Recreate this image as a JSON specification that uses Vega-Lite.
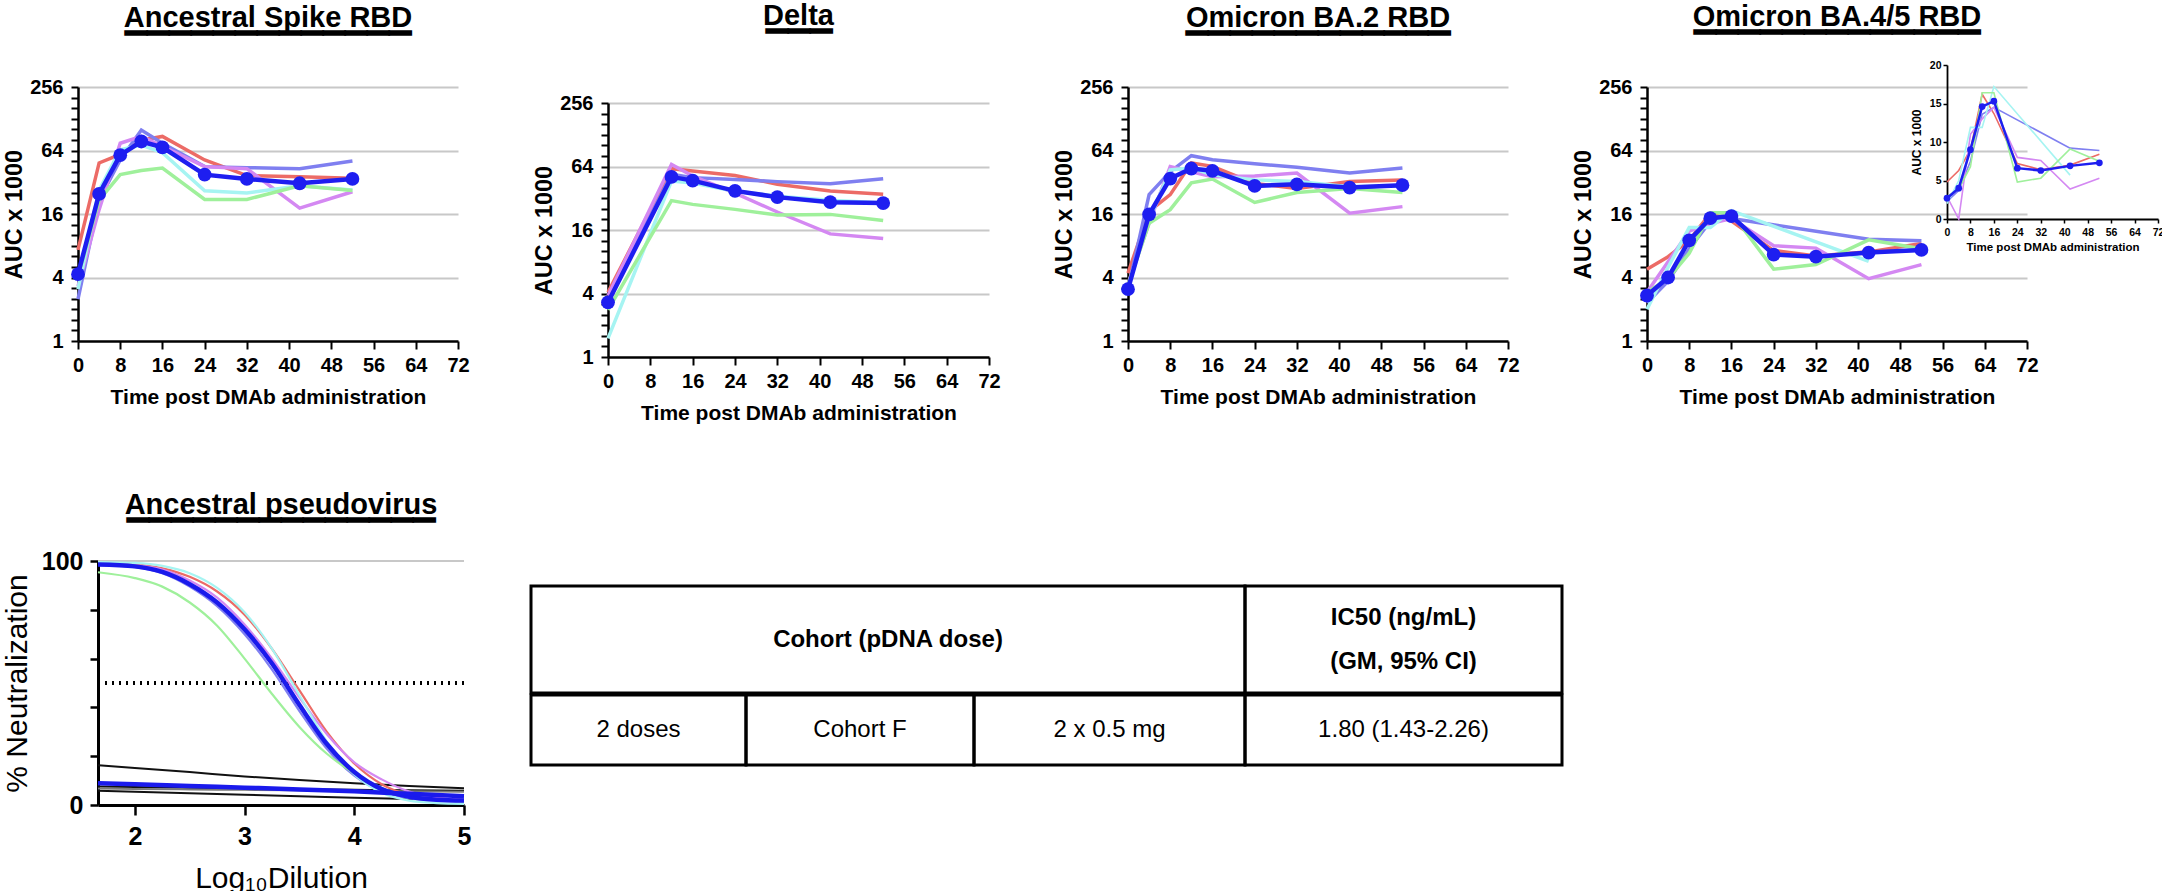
{
  "$schema": "https://vega.github.io/schema/vega-lite/v6.json",
  "background": "white",
  "padding": {"left": 2, "top": 2, "right": 0, "bottom": 0},
  "config": {
    "view": {"stroke": null},
    "font": "Liberation Sans",
    "axis": {
      "domainColor": "black", "domainWidth": 2.5, "tickColor": "black", "tickWidth": 2,
      "labelColor": "black", "labelFont": "Liberation Sans", "labelFontWeight": "bold",
      "titleColor": "black", "titleFont": "Liberation Sans", "titleFontWeight": "bold",
      "labelFlush": false, "labelOverlap": false, "labelBound": false,
      "gridColor": "#c8c8c8", "gridWidth": 2
    },
    "title": {"font": "Liberation Sans", "fontSize": 29, "fontWeight": "bold", "color": "black", "anchor": "middle", "lineHeight": 1},
    "text": {"font": "Liberation Sans", "color": "black"}
  },
  "datasets": {
    "spike": [
      {"series": "Animal 1", "time": 0, "auc": 7.3}, {"series": "Animal 1", "time": 4, "auc": 48.8}, {"series": "Animal 1", "time": 8, "auc": 58.8}, {"series": "Animal 1", "time": 12, "auc": 80}, {"series": "Animal 1", "time": 16, "auc": 87}, {"series": "Animal 1", "time": 24, "auc": 52}, {"series": "Animal 1", "time": 32, "auc": 37}, {"series": "Animal 1", "time": 42, "auc": 36}, {"series": "Animal 1", "time": 52, "auc": 35},
      {"series": "Animal 2", "time": 0, "auc": 2.5}, {"series": "Animal 2", "time": 4, "auc": 21.7}, {"series": "Animal 2", "time": 8, "auc": 52}, {"series": "Animal 2", "time": 12, "auc": 100}, {"series": "Animal 2", "time": 16, "auc": 75}, {"series": "Animal 2", "time": 24, "auc": 45}, {"series": "Animal 2", "time": 32, "auc": 44}, {"series": "Animal 2", "time": 42, "auc": 43}, {"series": "Animal 2", "time": 52, "auc": 51},
      {"series": "Animal 3", "time": 0, "auc": 3.3}, {"series": "Animal 3", "time": 4, "auc": 17.6}, {"series": "Animal 3", "time": 8, "auc": 75}, {"series": "Animal 3", "time": 12, "auc": 87}, {"series": "Animal 3", "time": 16, "auc": 70}, {"series": "Animal 3", "time": 24, "auc": 45}, {"series": "Animal 3", "time": 32, "auc": 43}, {"series": "Animal 3", "time": 42, "auc": 18.2}, {"series": "Animal 3", "time": 52, "auc": 26},
      {"series": "Animal 4", "time": 0, "auc": 3.1}, {"series": "Animal 4", "time": 4, "auc": 27}, {"series": "Animal 4", "time": 8, "auc": 65}, {"series": "Animal 4", "time": 12, "auc": 72}, {"series": "Animal 4", "time": 16, "auc": 61}, {"series": "Animal 4", "time": 24, "auc": 26.6}, {"series": "Animal 4", "time": 32, "auc": 25.3}, {"series": "Animal 4", "time": 42, "auc": 29.6}, {"series": "Animal 4", "time": 52, "auc": 27},
      {"series": "Animal 5", "time": 0, "auc": 4.1}, {"series": "Animal 5", "time": 4, "auc": 21.7}, {"series": "Animal 5", "time": 8, "auc": 37.8}, {"series": "Animal 5", "time": 12, "auc": 41.3}, {"series": "Animal 5", "time": 16, "auc": 43.6}, {"series": "Animal 5", "time": 24, "auc": 22}, {"series": "Animal 5", "time": 32, "auc": 22}, {"series": "Animal 5", "time": 42, "auc": 29.6}, {"series": "Animal 5", "time": 52, "auc": 26.7},
      {"series": "GM", "time": 0, "auc": 4.3}, {"series": "GM", "time": 4, "auc": 24.8}, {"series": "GM", "time": 8, "auc": 57.8}, {"series": "GM", "time": 12, "auc": 77.9}, {"series": "GM", "time": 16, "auc": 68.6}, {"series": "GM", "time": 24, "auc": 37.8}, {"series": "GM", "time": 32, "auc": 34.4}, {"series": "GM", "time": 42, "auc": 31.3}, {"series": "GM", "time": 52, "auc": 34.4}
    ],
    "delta": [
      {"series": "Animal 1", "time": 0, "auc": 4.1}, {"series": "Animal 1", "time": 12, "auc": 61}, {"series": "Animal 1", "time": 16, "auc": 58}, {"series": "Animal 1", "time": 24, "auc": 52.6}, {"series": "Animal 1", "time": 32, "auc": 43.5}, {"series": "Animal 1", "time": 42, "auc": 37.5}, {"series": "Animal 1", "time": 52, "auc": 34.9},
      {"series": "Animal 2", "time": 0, "auc": 3.5}, {"series": "Animal 2", "time": 12, "auc": 54}, {"series": "Animal 2", "time": 16, "auc": 50.2}, {"series": "Animal 2", "time": 24, "auc": 48.3}, {"series": "Animal 2", "time": 32, "auc": 46}, {"series": "Animal 2", "time": 42, "auc": 43.9}, {"series": "Animal 2", "time": 52, "auc": 49},
      {"series": "Animal 3", "time": 0, "auc": 3.8}, {"series": "Animal 3", "time": 12, "auc": 67}, {"series": "Animal 3", "time": 16, "auc": 52}, {"series": "Animal 3", "time": 24, "auc": 35.8}, {"series": "Animal 3", "time": 32, "auc": 23.7}, {"series": "Animal 3", "time": 42, "auc": 14.7}, {"series": "Animal 3", "time": 52, "auc": 13.3},
      {"series": "Animal 4", "time": 0, "auc": 1.5}, {"series": "Animal 4", "time": 12, "auc": 46.6}, {"series": "Animal 4", "time": 16, "auc": 44.6}, {"series": "Animal 4", "time": 24, "auc": 37.3}, {"series": "Animal 4", "time": 32, "auc": 33.5}, {"series": "Animal 4", "time": 42, "auc": 30.6}, {"series": "Animal 4", "time": 52, "auc": 28.9},
      {"series": "Animal 5", "time": 0, "auc": 2.8}, {"series": "Animal 5", "time": 12, "auc": 30.4}, {"series": "Animal 5", "time": 16, "auc": 28}, {"series": "Animal 5", "time": 24, "auc": 25.1}, {"series": "Animal 5", "time": 32, "auc": 22.2}, {"series": "Animal 5", "time": 42, "auc": 22.5}, {"series": "Animal 5", "time": 52, "auc": 19.7},
      {"series": "GM", "time": 0, "auc": 3.3}, {"series": "GM", "time": 12, "auc": 51}, {"series": "GM", "time": 16, "auc": 47}, {"series": "GM", "time": 24, "auc": 37.6}, {"series": "GM", "time": 32, "auc": 32.8}, {"series": "GM", "time": 42, "auc": 29.4}, {"series": "GM", "time": 52, "auc": 28.8}
    ],
    "ba2": [
      {"series": "Animal 1", "time": 0, "auc": 4.4}, {"series": "Animal 1", "time": 4, "auc": 16.9}, {"series": "Animal 1", "time": 8, "auc": 24.4}, {"series": "Animal 1", "time": 12, "auc": 48.7}, {"series": "Animal 1", "time": 16, "auc": 45.3}, {"series": "Animal 1", "time": 24, "auc": 31.2}, {"series": "Animal 1", "time": 32, "auc": 28}, {"series": "Animal 1", "time": 42, "auc": 32.5}, {"series": "Animal 1", "time": 52, "auc": 33.7},
      {"series": "Animal 2", "time": 0, "auc": 3.1}, {"series": "Animal 2", "time": 4, "auc": 24.4}, {"series": "Animal 2", "time": 8, "auc": 40.3}, {"series": "Animal 2", "time": 12, "auc": 57.1}, {"series": "Animal 2", "time": 16, "auc": 52.2}, {"series": "Animal 2", "time": 24, "auc": 47.9}, {"series": "Animal 2", "time": 32, "auc": 44.3}, {"series": "Animal 2", "time": 42, "auc": 39.1}, {"series": "Animal 2", "time": 52, "auc": 43.6},
      {"series": "Animal 3", "time": 0, "auc": 3.5}, {"series": "Animal 3", "time": 4, "auc": 13.1}, {"series": "Animal 3", "time": 8, "auc": 45}, {"series": "Animal 3", "time": 12, "auc": 40.3}, {"series": "Animal 3", "time": 16, "auc": 36.1}, {"series": "Animal 3", "time": 24, "auc": 36.6}, {"series": "Animal 3", "time": 32, "auc": 39.1}, {"series": "Animal 3", "time": 42, "auc": 16.3}, {"series": "Animal 3", "time": 52, "auc": 18.8},
      {"series": "Animal 4", "time": 0, "auc": 3.3}, {"series": "Animal 4", "time": 4, "auc": 14}, {"series": "Animal 4", "time": 8, "auc": 42}, {"series": "Animal 4", "time": 12, "auc": 43.6}, {"series": "Animal 4", "time": 16, "auc": 37.6}, {"series": "Animal 4", "time": 24, "auc": 33.7}, {"series": "Animal 4", "time": 32, "auc": 32.5}, {"series": "Animal 4", "time": 42, "auc": 29}, {"series": "Animal 4", "time": 52, "auc": 29.5},
      {"series": "Animal 5", "time": 0, "auc": 3.4}, {"series": "Animal 5", "time": 4, "auc": 13.1}, {"series": "Animal 5", "time": 8, "auc": 17.6}, {"series": "Animal 5", "time": 12, "auc": 31.6}, {"series": "Animal 5", "time": 16, "auc": 34.3}, {"series": "Animal 5", "time": 24, "auc": 20.6}, {"series": "Animal 5", "time": 32, "auc": 25.6}, {"series": "Animal 5", "time": 42, "auc": 27.9}, {"series": "Animal 5", "time": 52, "auc": 25.6},
      {"series": "GM", "time": 0, "auc": 3.1}, {"series": "GM", "time": 4, "auc": 15.9}, {"series": "GM", "time": 8, "auc": 34.7}, {"series": "GM", "time": 12, "auc": 43.2}, {"series": "GM", "time": 16, "auc": 41.1}, {"series": "GM", "time": 24, "auc": 29.5}, {"series": "GM", "time": 32, "auc": 30.6}, {"series": "GM", "time": 42, "auc": 28.5}, {"series": "GM", "time": 52, "auc": 30}
    ],
    "ba45": [
      {"series": "Animal 1", "time": 0, "auc": 4.8}, {"series": "Animal 1", "time": 4, "auc": 6.3}, {"series": "Animal 1", "time": 8, "auc": 9.0}, {"series": "Animal 1", "time": 12, "auc": 16.2}, {"series": "Animal 1", "time": 16, "auc": 13.7}, {"series": "Animal 1", "time": 24, "auc": 7.2}, {"series": "Animal 1", "time": 32, "auc": 6.4}, {"series": "Animal 1", "time": 42, "auc": 7.0}, {"series": "Animal 1", "time": 52, "auc": 8.4},
      {"series": "Animal 2", "time": 0, "auc": 2.3}, {"series": "Animal 2", "time": 4, "auc": 3.7}, {"series": "Animal 2", "time": 8, "auc": 7.5}, {"series": "Animal 2", "time": 12, "auc": 13.6}, {"series": "Animal 2", "time": 16, "auc": 14.5}, {"series": "Animal 2", "time": 42, "auc": 9.2}, {"series": "Animal 2", "time": 52, "auc": 8.9},
      {"series": "Animal 3", "time": 0, "auc": 2.9}, {"series": "Animal 3", "time": 4, "auc": 0}, {"series": "Animal 3", "time": 8, "auc": 11.0}, {"series": "Animal 3", "time": 12, "auc": 13.0}, {"series": "Animal 3", "time": 16, "auc": 14.5}, {"series": "Animal 3", "time": 24, "auc": 8.0}, {"series": "Animal 3", "time": 32, "auc": 7.6}, {"series": "Animal 3", "time": 42, "auc": 3.9}, {"series": "Animal 3", "time": 52, "auc": 5.3},
      {"series": "Animal 4", "time": 0, "auc": 2.0}, {"series": "Animal 4", "time": 4, "auc": 5.0}, {"series": "Animal 4", "time": 8, "auc": 11.9}, {"series": "Animal 4", "time": 12, "auc": 11.9}, {"series": "Animal 4", "time": 16, "auc": 17.2}, {"series": "Animal 4", "time": 42, "auc": 5.7},
      {"series": "Animal 5", "time": 0, "auc": 2.9}, {"series": "Animal 5", "time": 4, "auc": 3.9}, {"series": "Animal 5", "time": 8, "auc": 6.8}, {"series": "Animal 5", "time": 12, "auc": 16.4}, {"series": "Animal 5", "time": 16, "auc": 16.4}, {"series": "Animal 5", "time": 24, "auc": 4.8}, {"series": "Animal 5", "time": 32, "auc": 5.3}, {"series": "Animal 5", "time": 42, "auc": 9.1}, {"series": "Animal 5", "time": 52, "auc": 7.5},
      {"series": "GM", "time": 0, "auc": 2.7}, {"series": "GM", "time": 4, "auc": 4.0}, {"series": "GM", "time": 8, "auc": 9.0}, {"series": "GM", "time": 12, "auc": 14.6}, {"series": "GM", "time": 16, "auc": 15.3}, {"series": "GM", "time": 24, "auc": 6.6}, {"series": "GM", "time": 32, "auc": 6.3}, {"series": "GM", "time": 42, "auc": 6.9}, {"series": "GM", "time": 52, "auc": 7.3}
    ],
    "pseudo": [
      {"series": "Animal 1", "dil": 1.664, "neut": 99}, {"series": "Animal 1", "dil": 2, "neut": 98.5}, {"series": "Animal 1", "dil": 2.25, "neut": 97}, {"series": "Animal 1", "dil": 2.5, "neut": 93.5}, {"series": "Animal 1", "dil": 2.75, "neut": 87.5}, {"series": "Animal 1", "dil": 3, "neut": 78}, {"series": "Animal 1", "dil": 3.25, "neut": 64}, {"series": "Animal 1", "dil": 3.5, "neut": 47}, {"series": "Animal 1", "dil": 3.75, "neut": 30}, {"series": "Animal 1", "dil": 4, "neut": 17}, {"series": "Animal 1", "dil": 4.25, "neut": 8.5}, {"series": "Animal 1", "dil": 4.5, "neut": 4}, {"series": "Animal 1", "dil": 4.75, "neut": 2.2}, {"series": "Animal 1", "dil": 5, "neut": 1.5},
      {"series": "Animal 2", "dil": 1.664, "neut": 98.5}, {"series": "Animal 2", "dil": 2, "neut": 97.5}, {"series": "Animal 2", "dil": 2.25, "neut": 95}, {"series": "Animal 2", "dil": 2.5, "neut": 89.5}, {"series": "Animal 2", "dil": 2.75, "neut": 81.5}, {"series": "Animal 2", "dil": 3, "neut": 70}, {"series": "Animal 2", "dil": 3.25, "neut": 55.5}, {"series": "Animal 2", "dil": 3.5, "neut": 38.5}, {"series": "Animal 2", "dil": 3.75, "neut": 23}, {"series": "Animal 2", "dil": 4, "neut": 12}, {"series": "Animal 2", "dil": 4.25, "neut": 5.5}, {"series": "Animal 2", "dil": 4.5, "neut": 2.8}, {"series": "Animal 2", "dil": 4.75, "neut": 1.8}, {"series": "Animal 2", "dil": 5, "neut": 1.5},
      {"series": "Animal 3", "dil": 1.664, "neut": 98.8}, {"series": "Animal 3", "dil": 2, "neut": 98.2}, {"series": "Animal 3", "dil": 2.25, "neut": 96.5}, {"series": "Animal 3", "dil": 2.5, "neut": 92}, {"series": "Animal 3", "dil": 2.75, "neut": 85}, {"series": "Animal 3", "dil": 3, "neut": 74}, {"series": "Animal 3", "dil": 3.25, "neut": 60}, {"series": "Animal 3", "dil": 3.5, "neut": 44}, {"series": "Animal 3", "dil": 3.75, "neut": 29}, {"series": "Animal 3", "dil": 4, "neut": 17.5}, {"series": "Animal 3", "dil": 4.25, "neut": 10.5}, {"series": "Animal 3", "dil": 4.5, "neut": 5.5}, {"series": "Animal 3", "dil": 4.75, "neut": 3}, {"series": "Animal 3", "dil": 5, "neut": 2.2},
      {"series": "Animal 4", "dil": 1.664, "neut": 99.6}, {"series": "Animal 4", "dil": 2, "neut": 99.2}, {"series": "Animal 4", "dil": 2.25, "neut": 98}, {"series": "Animal 4", "dil": 2.5, "neut": 95}, {"series": "Animal 4", "dil": 2.75, "neut": 89}, {"series": "Animal 4", "dil": 3, "neut": 79}, {"series": "Animal 4", "dil": 3.25, "neut": 64}, {"series": "Animal 4", "dil": 3.5, "neut": 45}, {"series": "Animal 4", "dil": 3.75, "neut": 26}, {"series": "Animal 4", "dil": 4, "neut": 12.5}, {"series": "Animal 4", "dil": 4.25, "neut": 5}, {"series": "Animal 4", "dil": 4.5, "neut": 1.8}, {"series": "Animal 4", "dil": 4.75, "neut": 0.8}, {"series": "Animal 4", "dil": 5, "neut": 0.5},
      {"series": "Animal 5", "dil": 1.664, "neut": 95.4}, {"series": "Animal 5", "dil": 2, "neut": 93}, {"series": "Animal 5", "dil": 2.25, "neut": 89.5}, {"series": "Animal 5", "dil": 2.5, "neut": 83}, {"series": "Animal 5", "dil": 2.75, "neut": 73.5}, {"series": "Animal 5", "dil": 3, "neut": 60}, {"series": "Animal 5", "dil": 3.25, "neut": 45.5}, {"series": "Animal 5", "dil": 3.5, "neut": 32}, {"series": "Animal 5", "dil": 3.75, "neut": 21}, {"series": "Animal 5", "dil": 4, "neut": 13}, {"series": "Animal 5", "dil": 4.25, "neut": 7}, {"series": "Animal 5", "dil": 4.5, "neut": 3.6}, {"series": "Animal 5", "dil": 4.75, "neut": 2}, {"series": "Animal 5", "dil": 5, "neut": 1.5},
      {"series": "GM", "dil": 1.664, "neut": 98.6}, {"series": "GM", "dil": 2, "neut": 97.8}, {"series": "GM", "dil": 2.25, "neut": 95.5}, {"series": "GM", "dil": 2.5, "neut": 90.5}, {"series": "GM", "dil": 2.75, "neut": 83}, {"series": "GM", "dil": 3, "neut": 72}, {"series": "GM", "dil": 3.25, "neut": 58}, {"series": "GM", "dil": 3.5, "neut": 41}, {"series": "GM", "dil": 3.75, "neut": 25}, {"series": "GM", "dil": 4, "neut": 13.5}, {"series": "GM", "dil": 4.25, "neut": 6.5}, {"series": "GM", "dil": 4.5, "neut": 3.4}, {"series": "GM", "dil": 4.75, "neut": 2.2}, {"series": "GM", "dil": 5, "neut": 1.8},
      {"series": "Control 1", "dil": 1.664, "neut": 16.3}, {"series": "Control 1", "dil": 2, "neut": 15.2}, {"series": "Control 1", "dil": 2.5, "neut": 13.5}, {"series": "Control 1", "dil": 3, "neut": 11.7}, {"series": "Control 1", "dil": 3.5, "neut": 10.2}, {"series": "Control 1", "dil": 4, "neut": 8.9}, {"series": "Control 1", "dil": 4.5, "neut": 7.8}, {"series": "Control 1", "dil": 5, "neut": 6.9},
      {"series": "Control 2", "dil": 1.664, "neut": 7.6}, {"series": "Control 2", "dil": 2, "neut": 7.4}, {"series": "Control 2", "dil": 2.5, "neut": 7.1}, {"series": "Control 2", "dil": 3, "neut": 6.8}, {"series": "Control 2", "dil": 3.5, "neut": 6.5}, {"series": "Control 2", "dil": 4, "neut": 6.2}, {"series": "Control 2", "dil": 4.5, "neut": 6.0}, {"series": "Control 2", "dil": 5, "neut": 5.8},
      {"series": "Control 3", "dil": 1.664, "neut": 5.8}, {"series": "Control 3", "dil": 2, "neut": 5.4}, {"series": "Control 3", "dil": 2.5, "neut": 4.8}, {"series": "Control 3", "dil": 3, "neut": 4.2}, {"series": "Control 3", "dil": 3.5, "neut": 3.6}, {"series": "Control 3", "dil": 4, "neut": 3.0}, {"series": "Control 3", "dil": 4.5, "neut": 2.5}, {"series": "Control 3", "dil": 5, "neut": 2.0},
      {"series": "Control 4", "dil": 1.664, "neut": 6.8}, {"series": "Control 4", "dil": 2, "neut": 6.6}, {"series": "Control 4", "dil": 2.5, "neut": 6.4}, {"series": "Control 4", "dil": 3, "neut": 6.2}, {"series": "Control 4", "dil": 3.5, "neut": 6.0}, {"series": "Control 4", "dil": 4, "neut": 5.8}, {"series": "Control 4", "dil": 4.5, "neut": 5.6}, {"series": "Control 4", "dil": 5, "neut": 5.4},
      {"series": "Control GM", "dil": 1.664, "neut": 8.9}, {"series": "Control GM", "dil": 2, "neut": 8.5}, {"series": "Control GM", "dil": 2.5, "neut": 7.8}, {"series": "Control GM", "dil": 3, "neut": 7.1}, {"series": "Control GM", "dil": 3.5, "neut": 6.4}, {"series": "Control GM", "dil": 4, "neut": 5.6}, {"series": "Control GM", "dil": 4.5, "neut": 4.6}, {"series": "Control GM", "dil": 5, "neut": 3.6}
    ],
    "table": [
      {"cell": "h1", "label": "Cohort (pDNA dose)"},
      {"cell": "h2", "label": "IC50 (ng/mL)\n(GM, 95% CI)"},
      {"cell": "d1", "label": "2 doses"},
      {"cell": "d2", "label": "Cohort F"},
      {"cell": "d3", "label": "2 x 0.5 mg"},
      {"cell": "d4", "label": "1.80 (1.43-2.26)"}
    ]
  },
  "concat": [
    {
      "spacing": 62,
      "hconcat": [
        {
          "width": 380, "height": 254,
          "title": {"text": ["Ancestral Spike RBD", "▁▁▁▁▁▁▁▁▁▁▁▁▁"], "offset": 43.5},
          "data": {"name": "spike"},
          "encoding": {
            "x": {"field": "time", "type": "quantitative", "scale": {"domain": [0, 72], "nice": false, "zero": false},
              "axis": {"values": [0, 8, 16, 24, 32, 40, 48, 56, 64, 72], "title": "Time post DMAb administration", "titleFontSize": 21, "titlePadding": 11, "labelFontSize": 20, "labelPadding": 6, "tickSize": 8, "grid": false, "labelOverlap": false}},
            "y": {"field": "auc", "type": "quantitative", "scale": {"type": "log", "base": 2, "domain": [1, 256], "nice": false},
              "axis": {"values": [1, 1.26, 1.587, 2, 2.52, 3.175, 4, 5.04, 6.35, 8, 10.08, 12.7, 16, 20.16, 25.4, 32, 40.32, 50.8, 64, 80.63, 101.6, 128, 161.3, 203.2, 256],
                "labelExpr": "indexof([1, 4, 16, 64, 256], datum.value) >= 0 ? format(datum.value, 'd') : ''", "labelOverlap": false,
                "title": "AUC x 1000", "titleFontSize": 23.5, "titlePadding": 3, "labelFontSize": 20, "labelPadding": 8, "tickSize": 7,
                "grid": true, "gridOpacity": {"condition": {"test": "indexof([4, 16, 64, 256], datum.value) >= 0", "value": 1}, "value": 0}}}
          },
          "layer": [
            {"transform": [{"filter": "datum.series != 'GM'"}], "mark": {"type": "line", "strokeWidth": 3.5},
              "encoding": {"color": {"field": "series", "type": "nominal", "legend": null, "scale": {"domain": ["Animal 1", "Animal 2", "Animal 3", "Animal 4", "Animal 5"], "range": ["#ec6b66", "#7f7ff0", "#d488f2", "#a6f4f2", "#9ff09b"]}}}},
            {"transform": [{"filter": "datum.series == 'GM'"}], "mark": {"type": "line", "color": "#1e1ef0", "strokeWidth": 4.5, "point": {"filled": true, "size": 190, "color": "#1e1ef0"}}}
          ]
        },
        {
          "spacing": 51,
          "hconcat": [
            {
              "width": 381, "height": 270,
              "title": {"text": ["Delta", "▁▁▁"], "offset": 55},
              "data": {"name": "delta"},
              "encoding": {
                "x": {"field": "time", "type": "quantitative", "scale": {"domain": [0, 72], "nice": false, "zero": false},
                  "axis": {"values": [0, 8, 16, 24, 32, 40, 48, 56, 64, 72], "title": "Time post DMAb administration", "titleFontSize": 21, "titlePadding": 11, "labelFontSize": 20, "labelPadding": 6, "tickSize": 8, "grid": false, "labelOverlap": false}},
                "y": {"field": "auc", "type": "quantitative", "scale": {"type": "log", "base": 2, "domain": [1, 256], "nice": false, "range": [270, 16]},
                  "axis": {"values": [1, 1.26, 1.587, 2, 2.52, 3.175, 4, 5.04, 6.35, 8, 10.08, 12.7, 16, 20.16, 25.4, 32, 40.32, 50.8, 64, 80.63, 101.6, 128, 161.3, 203.2, 256],
                    "labelExpr": "indexof([1, 4, 16, 64, 256], datum.value) >= 0 ? format(datum.value, 'd') : ''", "labelOverlap": false,
                    "title": "AUC x 1000", "titleFontSize": 23.5, "titlePadding": 3, "labelFontSize": 20, "labelPadding": 8, "tickSize": 7,
                    "grid": true, "gridOpacity": {"condition": {"test": "indexof([4, 16, 64, 256], datum.value) >= 0", "value": 1}, "value": 0}}}
              },
              "layer": [
                {"transform": [{"filter": "datum.series != 'GM'"}], "mark": {"type": "line", "strokeWidth": 3.5},
                  "encoding": {"color": {"field": "series", "type": "nominal", "legend": null, "scale": {"domain": ["Animal 1", "Animal 2", "Animal 3", "Animal 4", "Animal 5"], "range": ["#ec6b66", "#7f7ff0", "#d488f2", "#a6f4f2", "#9ff09b"]}}}},
                {"transform": [{"filter": "datum.series == 'GM'"}], "mark": {"type": "line", "color": "#1e1ef0", "strokeWidth": 4.5, "point": {"filled": true, "size": 190, "color": "#1e1ef0"}}}
              ]
            },
            {
              "width": 380, "height": 254,
              "title": {"text": ["Omicron BA.2  RBD", "▁▁▁▁▁▁▁▁▁▁▁▁"], "offset": 43.5},
              "data": {"name": "ba2"},
              "encoding": {
                "x": {"field": "time", "type": "quantitative", "scale": {"domain": [0, 72], "nice": false, "zero": false},
                  "axis": {"values": [0, 8, 16, 24, 32, 40, 48, 56, 64, 72], "title": "Time post DMAb administration", "titleFontSize": 21, "titlePadding": 11, "labelFontSize": 20, "labelPadding": 6, "tickSize": 8, "grid": false, "labelOverlap": false}},
                "y": {"field": "auc", "type": "quantitative", "scale": {"type": "log", "base": 2, "domain": [1, 256], "nice": false},
                  "axis": {"values": [1, 1.26, 1.587, 2, 2.52, 3.175, 4, 5.04, 6.35, 8, 10.08, 12.7, 16, 20.16, 25.4, 32, 40.32, 50.8, 64, 80.63, 101.6, 128, 161.3, 203.2, 256],
                    "labelExpr": "indexof([1, 4, 16, 64, 256], datum.value) >= 0 ? format(datum.value, 'd') : ''", "labelOverlap": false,
                    "title": "AUC x 1000", "titleFontSize": 23.5, "titlePadding": 3, "labelFontSize": 20, "labelPadding": 8, "tickSize": 7,
                    "grid": true, "gridOpacity": {"condition": {"test": "indexof([4, 16, 64, 256], datum.value) >= 0", "value": 1}, "value": 0}}}
              },
              "layer": [
                {"transform": [{"filter": "datum.series != 'GM'"}], "mark": {"type": "line", "strokeWidth": 3.5},
                  "encoding": {"color": {"field": "series", "type": "nominal", "legend": null, "scale": {"domain": ["Animal 1", "Animal 2", "Animal 3", "Animal 4", "Animal 5"], "range": ["#ec6b66", "#7f7ff0", "#d488f2", "#a6f4f2", "#9ff09b"]}}}},
                {"transform": [{"filter": "datum.series == 'GM'"}], "mark": {"type": "line", "color": "#1e1ef0", "strokeWidth": 4.5, "point": {"filled": true, "size": 190, "color": "#1e1ef0"}}}
              ]
            },
            {
              "width": 380, "height": 254,
              "title": {"text": ["Omicron BA.4/5 RBD", "▁▁▁▁▁▁▁▁▁▁▁▁▁"], "offset": 27},
              "data": {"name": "ba45"},
              "layer": [
                {
                  "transform": [{"filter": "datum.auc > 0"}],
                  "encoding": {
                    "x": {"field": "time", "type": "quantitative", "scale": {"domain": [0, 72], "nice": false, "zero": false, "range": [0, 380]},
                      "axis": {"values": [0, 8, 16, 24, 32, 40, 48, 56, 64, 72], "title": "Time post DMAb administration", "titleFontSize": 21, "titlePadding": 11, "labelFontSize": 20, "labelPadding": 6, "tickSize": 8, "grid": false, "labelOverlap": false}},
                    "y": {"field": "auc", "type": "quantitative", "scale": {"type": "log", "base": 2, "domain": [1, 256], "nice": false, "range": [254, 0]},
                      "axis": {"orient": "left", "values": [1, 1.26, 1.587, 2, 2.52, 3.175, 4, 5.04, 6.35, 8, 10.08, 12.7, 16, 20.16, 25.4, 32, 40.32, 50.8, 64, 80.63, 101.6, 128, 161.3, 203.2, 256],
                        "labelExpr": "indexof([1, 4, 16, 64, 256], datum.value) >= 0 ? format(datum.value, 'd') : ''", "labelOverlap": false,
                        "title": "AUC x 1000", "titleFontSize": 23.5, "titlePadding": 3, "labelFontSize": 20, "labelPadding": 8, "tickSize": 7,
                        "grid": true, "gridOpacity": {"condition": {"test": "indexof([4, 16, 64, 256], datum.value) >= 0", "value": 1}, "value": 0}}}
                  },
                  "layer": [
                    {"transform": [{"filter": "datum.series != 'GM'"}], "mark": {"type": "line", "strokeWidth": 3.5},
                      "encoding": {"color": {"field": "series", "type": "nominal", "legend": null, "scale": {"domain": ["Animal 1", "Animal 2", "Animal 3", "Animal 4", "Animal 5"], "range": ["#ec6b66", "#7f7ff0", "#d488f2", "#a6f4f2", "#9ff09b"]}}}},
                    {"transform": [{"filter": "datum.series == 'GM'"}], "mark": {"type": "line", "color": "#1e1ef0", "strokeWidth": 4.5, "point": {"filled": true, "size": 190, "color": "#1e1ef0"}}}
                  ]
                },
                {
                  "encoding": {
                    "x": {"field": "time", "type": "quantitative", "scale": {"domain": [0, 72], "nice": false, "zero": false, "range": [300, 511]},
                      "axis": {"orient": "bottom", "offset": -122, "values": [0, 8, 16, 24, 32, 40, 48, 56, 64, 72], "title": "Time post DMAb administration", "titleFontSize": 11.5, "titlePadding": 4, "labelFontSize": 10.5, "labelPadding": 4, "tickSize": 4, "tickWidth": 1.5, "domainWidth": 1.8, "grid": false, "labelOverlap": false}},
                    "y": {"field": "auc", "type": "quantitative", "scale": {"domain": [0, 20], "nice": false, "range": [132, -22]},
                      "axis": {"orient": "left", "offset": -300, "values": [0, 5, 10, 15, 20], "title": "AUC x 1000", "titleFontSize": 12, "titlePadding": 6, "labelFontSize": 10.5, "labelPadding": 2, "tickSize": 4, "tickWidth": 1.5, "domainWidth": 1.8, "grid": false, "labelOverlap": false}}
                  },
                  "layer": [
                    {"transform": [{"filter": "datum.series != 'GM'"}], "mark": {"type": "line", "strokeWidth": 1.6},
                      "encoding": {"color": {"field": "series", "type": "nominal", "legend": null, "scale": {"domain": ["Animal 1", "Animal 2", "Animal 3", "Animal 4", "Animal 5"], "range": ["#ec6b66", "#7f7ff0", "#d488f2", "#a6f4f2", "#9ff09b"]}}}},
                    {"transform": [{"filter": "datum.series == 'GM'"}], "mark": {"type": "line", "color": "#1e1ef0", "strokeWidth": 2.5, "point": {"filled": true, "size": 45, "color": "#1e1ef0"}}}
                  ]
                }
              ],
              "resolve": {"scale": {"x": "independent", "y": "independent"}}
            }
          ]
        }
      ]
    },
    {
      "spacing": 56,
      "hconcat": [
        {
          "width": 386, "height": 244,
          "title": {"text": ["Ancestral pseudovirus", "▁▁▁▁▁▁▁▁▁▁▁▁▁▁"], "offset": 28, "dx": 10},
          "data": {"name": "pseudo"},
          "layer": [
            {"transform": [{"filter": "indexof(['Control 1', 'Control 2', 'Control 3'], datum.series) >= 0"}],
              "mark": {"type": "line", "strokeWidth": 2, "color": "#111111", "interpolate": "monotone"},
              "encoding": {
                "x": {"field": "dil", "type": "quantitative", "scale": {"domain": [1.664, 5], "nice": false, "zero": false, "range": [20, 386]},
                  "axis": {"values": [2, 3, 4, 5], "format": "d", "tickSize": 10, "tickWidth": 2.5, "domainWidth": 3, "labelFontSize": 25, "labelPadding": 9, "labelOverlap": false, "title": "Log₁₀Dilution", "titleFontSize": 30, "titleFontWeight": "normal", "titlePadding": 14, "grid": false}},
                "y": {"field": "neut", "type": "quantitative", "scale": {"domain": [0, 100], "nice": false},
                  "axis": {"offset": -20, "values": [0, 10, 20, 30, 40, 50, 60, 70, 80, 90, 100], "labelExpr": "datum.value % 50 == 0 ? datum.label : ''", "labelOverlap": false, "tickSize": 8, "tickWidth": 2.5, "domainWidth": 3, "labelFontSize": 25, "labelPadding": 7, "title": "% Neutralization", "titleFontSize": 30, "titleFontWeight": "normal", "titlePadding": 9, "grid": false}},
                "detail": {"field": "series", "type": "nominal"}
              }},
            {"transform": [{"filter": "datum.series == 'Control 4'"}],
              "mark": {"type": "line", "strokeWidth": 2, "color": "#7a7a7a", "interpolate": "monotone"},
              "encoding": {"x": {"field": "dil", "type": "quantitative"}, "y": {"field": "neut", "type": "quantitative"}}},
            {"mark": {"type": "rule", "strokeWidth": 2, "color": "#c8c8c8"},
              "encoding": {"x": {"datum": 1.664, "type": "quantitative"}, "x2": {"datum": 5}, "y": {"datum": 100, "type": "quantitative"}}},
            {"mark": {"type": "rule", "strokeDash": [2, 5], "strokeWidth": 2.5, "color": "black"},
              "encoding": {"x": {"datum": 1.664, "type": "quantitative"}, "x2": {"datum": 5}, "y": {"datum": 50, "type": "quantitative"}}},
            {"transform": [{"filter": "indexof(['Animal 1', 'Animal 2', 'Animal 3', 'Animal 4', 'Animal 5'], datum.series) >= 0"}],
              "mark": {"type": "line", "strokeWidth": 2.2, "interpolate": "monotone"},
              "encoding": {
                "x": {"field": "dil", "type": "quantitative"},
                "y": {"field": "neut", "type": "quantitative"},
                "color": {"field": "series", "type": "nominal", "legend": null, "scale": {"domain": ["Animal 1", "Animal 2", "Animal 3", "Animal 4", "Animal 5"], "range": ["#e8776f", "#5a5aea", "#b774e6", "#8aeeee", "#90ec90"]}}
              }},
            {"transform": [{"filter": "datum.series == 'GM' || datum.series == 'Control GM'"}],
              "mark": {"type": "line", "strokeWidth": 4.5, "color": "#1a1aec", "interpolate": "monotone"},
              "encoding": {
                "x": {"field": "dil", "type": "quantitative"},
                "y": {"field": "neut", "type": "quantitative"},
                "detail": {"field": "series", "type": "nominal"}
              }}
          ]
        },
        {
          "spacing": -3,
          "vconcat": [
            {"width": 10, "height": 24.5, "data": {"name": "table"}, "transform": [{"filter": "false"}], "mark": "text", "encoding": {"text": {"field": "label"}}},
            {
              "bounds": "flush", "spacing": 0,
              "hconcat": [
                {"width": 714, "height": 107, "view": {"stroke": "black", "strokeWidth": 3}, "data": {"name": "table"}, "transform": [{"filter": "datum.cell == 'h1'"}],
                  "mark": {"type": "text", "fontSize": 24, "fontWeight": "bold"}, "encoding": {"text": {"field": "label"}}},
                {"width": 317, "height": 107, "view": {"stroke": "black", "strokeWidth": 3}, "data": {"name": "table"}, "transform": [{"filter": "datum.cell == 'h2'"}],
                  "mark": {"type": "text", "fontSize": 24, "fontWeight": "bold", "lineBreak": "\n", "lineHeight": 44, "dy": -22}, "encoding": {"text": {"field": "label"}}}
              ]
            },
            {
              "bounds": "flush", "spacing": 0,
              "hconcat": [
                {"width": 215, "height": 70, "view": {"stroke": "black", "strokeWidth": 3}, "data": {"name": "table"}, "transform": [{"filter": "datum.cell == 'd1'"}],
                  "mark": {"type": "text", "fontSize": 24}, "encoding": {"text": {"field": "label"}}},
                {"width": 228, "height": 70, "view": {"stroke": "black", "strokeWidth": 3}, "data": {"name": "table"}, "transform": [{"filter": "datum.cell == 'd2'"}],
                  "mark": {"type": "text", "fontSize": 24}, "encoding": {"text": {"field": "label"}}},
                {"width": 271, "height": 70, "view": {"stroke": "black", "strokeWidth": 3}, "data": {"name": "table"}, "transform": [{"filter": "datum.cell == 'd3'"}],
                  "mark": {"type": "text", "fontSize": 24}, "encoding": {"text": {"field": "label"}}},
                {"width": 317, "height": 70, "view": {"stroke": "black", "strokeWidth": 3}, "data": {"name": "table"}, "transform": [{"filter": "datum.cell == 'd4'"}],
                  "mark": {"type": "text", "fontSize": 24}, "encoding": {"text": {"field": "label"}}}
              ]
            }
          ]
        }
      ]
    }
  ],
  "columns": 1,
  "align": "none",
  "spacing": 68
}
